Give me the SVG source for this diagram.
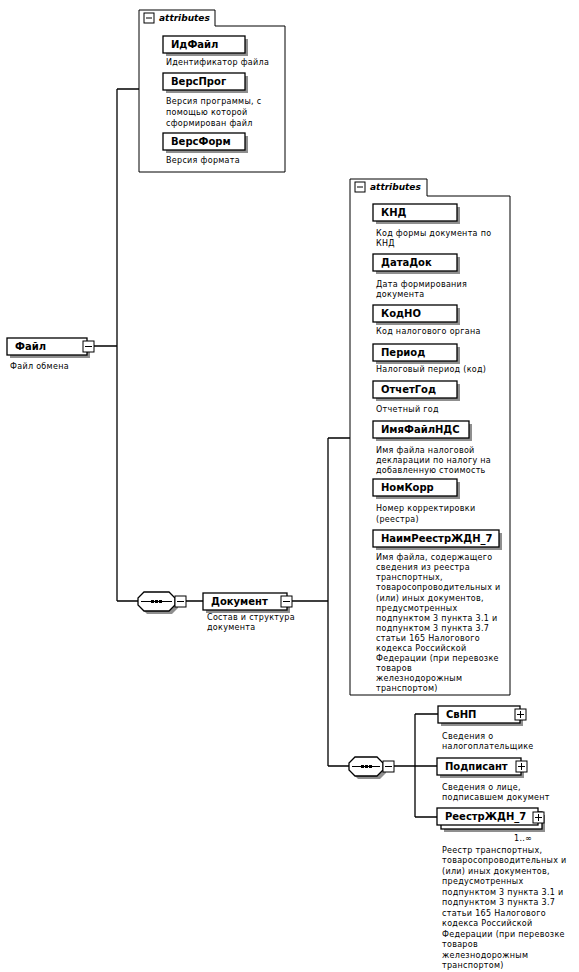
<svg xmlns="http://www.w3.org/2000/svg" width="579" height="972" viewBox="0 0 579 972">
<defs>
<style>
.box{fill:#fff;stroke:#000;stroke-width:1.3}
.sh{fill:#8f8f8f}
.frame{fill:#fff;stroke:#000;stroke-width:1}
.btn{fill:#fff;stroke:#000;stroke-width:1}
.pm{stroke:#000;stroke-width:1;fill:none}
.lbl{font-family:"DejaVu Sans",sans-serif;font-weight:bold;font-size:10px;fill:#000}
.desc{font-family:"DejaVu Sans",sans-serif;font-size:8px;fill:#000;letter-spacing:0.3px}
.tab{font-family:"DejaVu Sans",sans-serif;font-weight:bold;font-style:italic;font-size:9px;fill:#000}
.ln{stroke:#000;stroke-width:1.3;fill:none}
</style>
</defs>
<rect x="0" y="0" width="579" height="972" fill="#fff"/>

<g id="connectors">
<path class="ln" d="M94,346 H117 M117,89 V601 M117,89 H139 M117,601 H138 M186,601 H203 M292,601 H328 M328,438 V766 M328,438 H350 M328,766 H349 M394,766 H437 M415,714 V817 M415,714 H438 M415,817 H437"/>
</g>

<g id="attrs-file">
<path class="frame" d="M139,172 V10 H215 V26 H285 V172 Z"/>
<rect class="btn" x="144" y="13" width="10" height="10"/>
<path class="pm" d="M146,18 H152"/>
<text class="tab" x="159" y="21">attributes</text>
</g>

<g id="node-IdFile">
<rect class="sh" x="166" y="39" width="82" height="17"/>
<rect class="box" x="163" y="36" width="82" height="17"/>
<text class="lbl" x="171" y="48">ИдФайл</text>
<text class="desc" x="166" y="65">Идентификатор файла</text>
</g>
<g id="node-VersProg">
<rect class="sh" x="166" y="76" width="82" height="17"/>
<rect class="box" x="163" y="73" width="82" height="17"/>
<text class="lbl" x="171" y="85">ВерсПрог</text>
<text class="desc" x="166" y="104">Версия программы, с</text>
<text class="desc" x="166" y="115">помощью которой</text>
<text class="desc" x="166" y="126">сформирован файл</text>
</g>
<g id="node-VersForm">
<rect class="sh" x="166" y="136" width="82" height="17"/>
<rect class="box" x="163" y="133" width="82" height="17"/>
<text class="lbl" x="171" y="145">ВерсФорм</text>
<text class="desc" x="166" y="163">Версия формата</text>
</g>

<g id="node-File">
<rect class="sh" x="10" y="341" width="80" height="17"/>
<rect class="box" x="7" y="338" width="80" height="17"/>
<rect class="btn" x="83" y="341" width="11" height="11"/>
<path class="pm" d="M85,346.5 H92"/>
<text class="lbl" x="15" y="350">Файл</text>
<text class="desc" x="10" y="369">Файл обмена</text>
</g>

<g id="seq-1">
<polygon class="sh" points="147,595 172,595 178,601 178,608 172,614 147,614 141,608 141,601"/>
<polygon class="box" points="144,592 169,592 175,598 175,605 169,611 144,611 138,605 138,598"/>
<path class="pm" d="M141,601.5 H172"/>
<rect x="151" y="600" width="3" height="3"/><rect x="155" y="600" width="3" height="3"/><rect x="159" y="600" width="3" height="3"/>
<rect class="btn" x="175" y="596" width="11" height="11"/>
<path class="pm" d="M177,601.5 H184"/>
</g>

<g id="node-Document">
<rect class="sh" x="206" y="596" width="84" height="17"/>
<rect class="box" x="203" y="593" width="84" height="17"/>
<rect class="btn" x="281" y="596" width="11" height="11"/>
<path class="pm" d="M283,601.5 H290"/>
<text class="lbl" x="211" y="605">Документ</text>
<text class="desc" x="207" y="620">Состав и структура</text>
<text class="desc" x="207" y="630">документа</text>
</g>

<g id="attrs-document">
<path class="frame" d="M350,695 V179 H427 V196 H510 V695 Z"/>
<rect class="btn" x="355" y="182" width="10" height="10"/>
<path class="pm" d="M357,187 H363"/>
<text class="tab" x="370" y="190">attributes</text>
</g>

<g id="node-KND">
<rect class="sh" x="376" y="207" width="84" height="17"/>
<rect class="box" x="373" y="204" width="84" height="17"/>
<text class="lbl" x="381" y="216">КНД</text>
<text class="desc" x="376" y="236">Код формы документа по</text>
<text class="desc" x="376" y="246">КНД</text>
</g>
<g id="node-DataDok">
<rect class="sh" x="376" y="257" width="84" height="17"/>
<rect class="box" x="373" y="254" width="84" height="17"/>
<text class="lbl" x="381" y="266">ДатаДок</text>
<text class="desc" x="376" y="287">Дата формирования</text>
<text class="desc" x="376" y="297">документа</text>
</g>
<g id="node-KodNO">
<rect class="sh" x="376" y="308" width="84" height="17"/>
<rect class="box" x="373" y="305" width="84" height="17"/>
<text class="lbl" x="381" y="317">КодНО</text>
<text class="desc" x="376" y="334">Код налогового органа</text>
</g>
<g id="node-Period">
<rect class="sh" x="376" y="347" width="84" height="17"/>
<rect class="box" x="373" y="344" width="84" height="17"/>
<text class="lbl" x="381" y="356">Период</text>
<text class="desc" x="376" y="372">Налоговый период (код)</text>
</g>
<g id="node-OtchetGod">
<rect class="sh" x="376" y="384" width="84" height="17"/>
<rect class="box" x="373" y="381" width="84" height="17"/>
<text class="lbl" x="381" y="393">ОтчетГод</text>
<text class="desc" x="376" y="412">Отчетный год</text>
</g>
<g id="node-ImyaFailNDS">
<rect class="sh" x="376" y="424" width="96" height="17"/>
<rect class="box" x="373" y="421" width="96" height="17"/>
<text class="lbl" x="381" y="433">ИмяФайлНДС</text>
<text class="desc" x="376" y="453">Имя файла налоговой</text>
<text class="desc" x="376" y="463">декларации по налогу на</text>
<text class="desc" x="376" y="473">добавленную стоимость</text>
</g>
<g id="node-NomKorr">
<rect class="sh" x="376" y="482" width="84" height="17"/>
<rect class="box" x="373" y="479" width="84" height="17"/>
<text class="lbl" x="381" y="491">НомКорр</text>
<text class="desc" x="376" y="511">Номер корректировки</text>
<text class="desc" x="376" y="522">(реестра)</text>
</g>
<g id="node-NaimReestrZhDN7">
<rect class="sh" x="376" y="533" width="126" height="17"/>
<rect class="box" x="373" y="530" width="126" height="17"/>
<text class="lbl" x="381" y="542">НаимРеестрЖДН_7</text>
<text class="desc" x="376" y="560">Имя файла, содержащего</text>
<text class="desc" x="376" y="570">сведения из реестра</text>
<text class="desc" x="376" y="580">транспортных,</text>
<text class="desc" x="376" y="590">товаросопроводительных и</text>
<text class="desc" x="376" y="601">(или) иных документов,</text>
<text class="desc" x="376" y="611">предусмотренных</text>
<text class="desc" x="376" y="621">подпунктом 3 пункта 3.1 и</text>
<text class="desc" x="376" y="631">подпунктом 3 пункта 3.7</text>
<text class="desc" x="376" y="641">статьи 165 Налогового</text>
<text class="desc" x="376" y="651">кодекса Российской</text>
<text class="desc" x="376" y="661">Федерации (при перевозке</text>
<text class="desc" x="376" y="671">товаров</text>
<text class="desc" x="376" y="681">железнодорожным</text>
<text class="desc" x="376" y="691">транспортом)</text>
</g>

<g id="seq-2">
<polygon class="sh" points="358,760 380,760 386,766 386,773 380,779 358,779 352,773 352,766"/>
<polygon class="box" points="355,757 377,757 383,763 383,770 377,776 355,776 349,770 349,763"/>
<path class="pm" d="M352,766.5 H380"/>
<rect x="361" y="765" width="3" height="3"/><rect x="365" y="765" width="3" height="3"/><rect x="369" y="765" width="3" height="3"/>
<rect class="btn" x="383" y="761" width="11" height="11"/>
<path class="pm" d="M385,766.5 H392"/>
</g>

<g id="node-SvNP">
<rect class="sh" x="441" y="709" width="82" height="17"/>
<rect class="box" x="438" y="706" width="82" height="17"/>
<rect class="btn" x="515" y="709" width="11" height="11"/>
<path class="pm" d="M517,714.5 H524 M520.5,711 V718"/>
<text class="lbl" x="446" y="718">СвНП</text>
<text class="desc" x="442" y="739">Сведения о</text>
<text class="desc" x="442" y="749">налогоплательщике</text>
</g>
<g id="node-Podpisant">
<rect class="sh" x="440" y="761" width="84" height="17"/>
<rect class="box" x="437" y="758" width="84" height="17"/>
<rect class="btn" x="516" y="761" width="11" height="11"/>
<path class="pm" d="M518,766.5 H525 M521.5,763 V770"/>
<text class="lbl" x="445" y="770">Подписант</text>
<text class="desc" x="442" y="790">Сведения о лице,</text>
<text class="desc" x="442" y="800">подписавшем документ</text>
</g>
<g id="node-ReestrZhDN7">
<rect class="sh" x="444" y="815" width="101" height="17"/>
<rect class="box" x="441" y="812" width="101" height="17"/>
<rect class="box" x="437" y="808" width="101" height="17"/>
<rect class="btn" x="533" y="812" width="11" height="11"/>
<path class="pm" d="M535,817.5 H542 M538.5,814 V821"/>
<text class="lbl" x="445" y="820">РеестрЖДН_7</text>
<text class="desc" x="514" y="841">1..∞</text>
<text class="desc" x="442" y="853">Реестр транспортных,</text>
<text class="desc" x="442" y="863">товаросопроводительных и</text>
<text class="desc" x="442" y="874">(или) иных документов,</text>
<text class="desc" x="442" y="884">предусмотренных</text>
<text class="desc" x="442" y="895">подпунктом 3 пункта 3.1 и</text>
<text class="desc" x="442" y="905">подпунктом 3 пункта 3.7</text>
<text class="desc" x="442" y="916">статьи 165 Налогового</text>
<text class="desc" x="442" y="926">кодекса Российской</text>
<text class="desc" x="442" y="937">Федерации (при перевозке</text>
<text class="desc" x="442" y="947">товаров</text>
<text class="desc" x="442" y="958">железнодорожным</text>
<text class="desc" x="442" y="968">транспортом)</text>
</g>
</svg>
